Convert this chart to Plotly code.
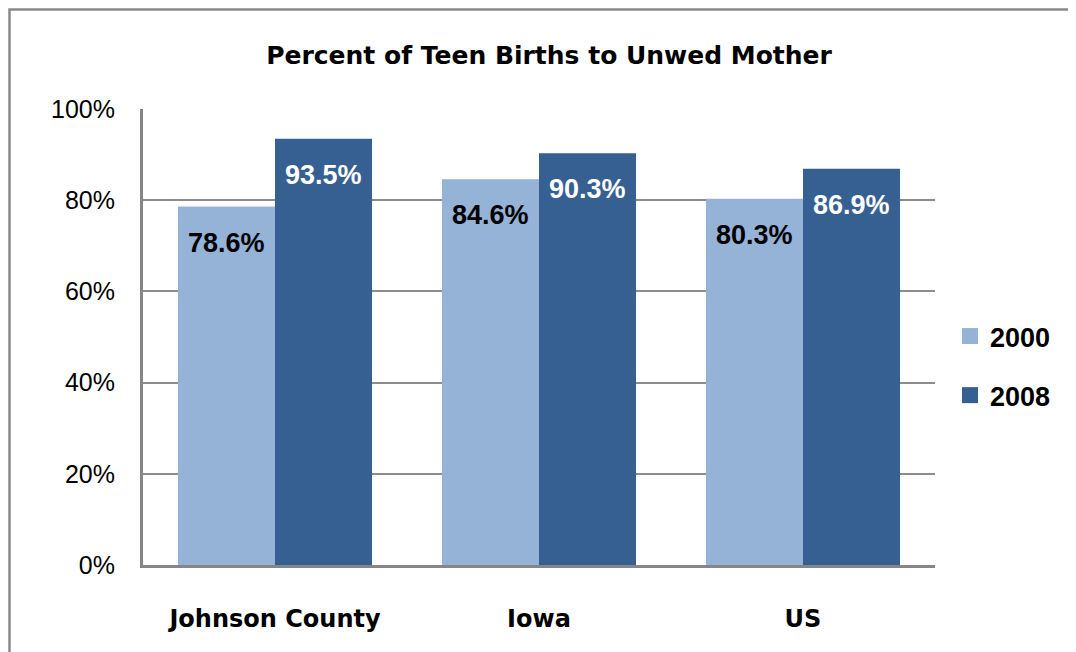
import plotly.graph_objects as go

categories = ["Johnson County", "Iowa", "US"]
series_names = ["2000", "2008"]
values_2000 = [0.786, 0.846, 0.803]
values_2008 = [0.935, 0.903, 0.869]
y_ticks = [0, 0.2, 0.4, 0.6, 0.8, 1.0]
y_tick_labels = ["0%", "20%", "40%", "60%", "80%", "100%"]
title_text = "Percent of Teen Births to Unwed Mother"

colors = ["#95B3D7", "#366092"]
label_colors = ["#000000", "#FFFFFF"]
series_values = [values_2000, values_2008]

# plot area in figure pixels
L, R, T, B = 135, 927, 101, 557
PW, PH = R - L, B - T

fig = go.Figure()
for name, vals, col in zip(series_names, series_values, colors):
    fig.add_trace(go.Bar(x=categories, y=vals, name=name, marker=dict(color=col, line=dict(width=0)),
                         showlegend=False, hoverinfo="x+y"))
# legend entries
for i, (name, col) in enumerate(zip(series_names, colors)):
    fig.add_trace(go.Scatter(x=[None], y=[None], mode="markers", name=name,
                             marker=dict(symbol="square", size=19, color=col),
                             legendgroup=f"g{i}", showlegend=True))

# data labels
bar_px = 97
for k, (vals, lc) in enumerate(zip(series_values, label_colors)):
    shift = (k - 0.5) * bar_px
    for c, v in zip(categories, vals):
        fig.add_annotation(x=c, y=v, xref="x", yref="y", text=f"{v*100:.1f}%", showarrow=False,
                           xshift=shift, yshift=-36, yanchor="middle",
                           font=dict(family="Liberation Sans", size=27, color=lc, weight="bold"))

# outer border
fig.add_shape(type="rect", xref="paper", yref="paper",
              x0=(1.5 - L) / PW, x1=(1090 - L) / PW,
              y0=(B - 670) / PH, y1=(B - 1.5) / PH,
              line=dict(color="#8A8A8A", width=2.5), fillcolor="rgba(0,0,0,0)", layer="below")

fig.update_layout(
    width=1076, height=652,
    margin=dict(l=L, r=1076 - R, t=T, b=652 - B),
    paper_bgcolor="white", plot_bgcolor="white",
    barmode="group", bargap=0.265, bargroupgap=0,
    title=dict(text=f"<b>{title_text}</b>", x=541 / 1076, xref="container", xanchor="center",
               y=1 - 47 / 652, yref="container", yanchor="middle",
               font=dict(family="DejaVu Sans", size=25, color="#000000")),
    legend=dict(x=(942 - L) / PW, xanchor="left", y=(B - 358) / PH, yanchor="middle",
                font=dict(family="Liberation Sans", size=27, color="#000000", weight="bold"),
                tracegroupgap=21, bgcolor="rgba(0,0,0,0)", traceorder="grouped"),
    xaxis=dict(showline=True, linecolor="#868686", linewidth=2.5, ticks="",
               tickfont=dict(family="DejaVu Sans", size=24, color="#000000", weight="bold"),
               ticklabelstandoff=30, fixedrange=True),
    yaxis=dict(range=[0, 1], tickvals=y_ticks, ticktext=y_tick_labels, showline=True,
               linecolor="#868686", linewidth=3, showgrid=True, gridcolor="#8C8C8C", gridwidth=2,
               zeroline=False, ticks="", ticklabelstandoff=20,
               tickfont=dict(family="Liberation Sans", size=25, color="#000000")),
    showlegend=True,
)

fig.write_html("out.html")
